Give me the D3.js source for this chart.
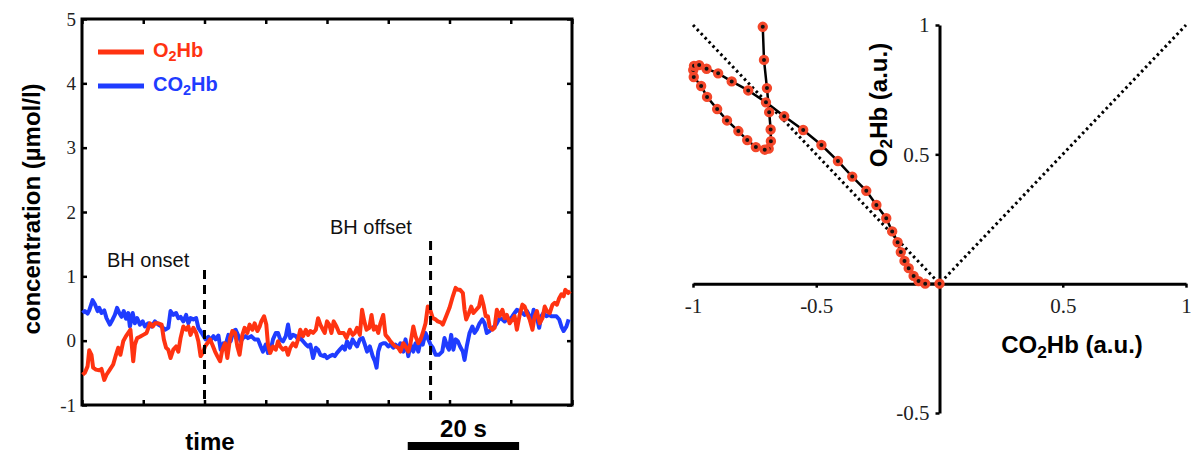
<!doctype html>
<html>
<head>
<meta charset="utf-8">
<title>BH O2Hb / CO2Hb</title>
<style>
  body { margin:0; background:#fff; }
  .lbl { font-family:"Liberation Sans",Arial,sans-serif; }
</style>
</head>
<body>
<div id="chart"></div>
<script src="https://cdn.jsdelivr.net/npm/d3@7"></script>
<script>
// ---- left: time course (s, umol/l) ----
var timeO2 = [0.1,0.5,1.0,1.3,1.7,2.0,2.5,3.1,3.5,4.0,4.4,5.0,5.6,6.1,6.5,6.9,7.4,7.9,8.3,8.7,9.2,9.5,9.9,10.4,11.0,11.6,12.2,12.7,13.1,13.7,14.3,14.7,15.1,15.5,15.9,16.4,16.9,17.3,17.7,18.2,18.7,19.1,19.5,20.0,20.5,20.9,21.3,21.8,22.1,
  22.5,23.0,23.4,23.9,24.3,24.8,25.2,25.7,26.1,26.6,27.0,27.5,27.9,28.3,28.8,29.2,29.7,30.1,30.6,31.0,31.5,31.9,32.2,32.7,33.1,33.4,33.8,34.3,34.8,35.2,35.6,36.1,36.6,37.0,37.4,37.9,38.4,38.8,39.2,39.7,40.2,40.6,41.0,41.5,42.0,42.4,42.8,43.4,
  43.6,44.0,44.4,44.8,45.2,45.7,46.2,46.6,47.0,47.5,48.1,48.6,49.0,49.4,49.9,50.3,50.7,51.1,51.6,52.0,52.4,52.8,53.2,53.6,54.1,54.5,55.0,55.4,55.9,56.3,56.8,57.2,57.7,58.1,58.6,59.0,59.5,59.9,60.4,60.8,61.2,61.7,62.1,62.6,63.0,63.5,63.9,64.5,
  64.8,65.4,66.0,66.6,67.1,67.5,67.9,68.4,68.7,69.0,69.5,69.9,70.3,70.8,71.3,71.7,72.1,72.5,72.9,73.2,73.7,74.1,74.5,75.0,75.5,75.9,76.3,76.8,77.3,77.7,78.1,78.6,79.1,79.5,79.9,80.4,80.9,81.3,81.7,82.2,82.7,83.1,83.5,84.0,84.5,84.9,85.3,85.7,86.1,86.5,86.8,87.3,87.7];
var o2hb = [-0.53,-0.50,-0.40,-0.15,-0.22,-0.42,-0.45,-0.46,-0.44,-0.61,-0.53,-0.45,-0.37,-0.22,-0.11,-0.22,-0.01,0.07,0.12,0.17,-0.32,-0.06,0.04,0.06,0.09,0.12,0.27,0.22,0.27,0.27,0.25,0.02,-0.11,-0.14,-0.27,-0.14,-0.09,-0.17,0.04,0.22,0.17,0.22,0.09,0.20,0.12,-0.01,-0.24,-0.17,-0.09,
  -0.04,0.02,-0.06,-0.17,-0.24,-0.32,-0.14,-0.04,-0.27,0.04,0.15,0.12,-0.09,-0.22,0.09,0.20,0.12,0.25,0.17,0.27,0.15,0.22,0.30,0.38,0.25,-0.06,-0.19,-0.09,-0.14,-0.01,-0.09,-0.14,-0.11,-0.22,-0.11,-0.04,-0.09,0.02,0.17,0.07,0.17,0.09,0.15,0.12,0.17,0.35,0.25,0.15,
  0.12,0.30,0.25,0.12,0.30,0.22,0.12,0.12,0.12,0.04,0.17,0.09,0.12,0.20,0.09,0.48,0.30,0.17,0.20,0.40,0.17,0.22,0.12,0.27,0.40,0.09,0.04,-0.01,-0.06,-0.09,-0.11,-0.17,-0.04,-0.09,-0.17,-0.04,0.22,0.07,-0.04,0.02,0.12,0.27,0.53,0.46,0.35,0.33,0.30,0.28,
  0.25,0.38,0.51,0.69,0.82,0.79,0.79,0.74,0.48,0.33,0.43,0.53,0.43,0.48,0.53,0.69,0.56,0.38,0.38,0.22,0.17,0.20,0.48,0.38,0.48,0.35,0.40,0.27,0.33,0.38,0.17,0.40,0.56,0.53,0.43,0.33,0.17,0.38,0.46,0.27,0.35,0.53,0.46,0.43,0.56,0.59,0.56,0.66,0.72,0.69,0.79,0.74,0.77];

var timeCO2 = [0.1,0.5,1.0,1.3,1.9,2.3,2.8,3.1,3.5,4.0,4.4,5.0,5.5,5.9,6.3,6.7,7.1,7.5,7.9,8.3,8.6,9.1,9.5,9.9,10.4,10.9,11.3,11.9,12.5,13.1,13.7,14.3,14.9,15.5,15.9,16.4,16.9,17.3,17.7,18.2,18.7,19.1,19.5,20.0,20.5,20.9,21.5,
  22.2,22.7,23.1,23.6,24.0,24.5,24.9,25.4,25.8,26.3,26.7,27.2,27.6,28.0,28.5,28.9,29.4,29.8,30.4,31.0,31.6,32.1,32.5,33.0,33.4,33.9,34.3,34.8,35.2,35.6,36.1,36.6,37.0,37.4,37.9,38.4,38.8,39.2,39.7,40.2,40.6,41.0,41.5,42.0,42.4,42.8,43.4,
  43.6,44.0,44.5,45.0,45.4,45.8,46.3,46.8,47.2,47.6,48.1,48.6,49.0,49.4,49.9,50.4,50.8,51.2,51.7,52.2,52.6,52.9,53.2,53.6,54.1,54.5,55.0,55.4,55.9,56.3,56.8,57.2,57.7,58.1,58.6,59.0,59.5,59.9,60.4,60.8,61.2,61.7,62.1,62.6,63.0,63.5,64.1,64.7,
  65.1,65.6,65.9,66.3,66.7,67.1,67.5,67.9,68.4,68.7,69.1,69.6,70.1,70.5,70.9,71.4,71.9,72.3,72.7,73.2,73.7,74.1,74.5,75.0,75.5,75.9,76.3,76.8,77.3,77.7,78.1,78.6,79.1,79.5,79.9,80.4,80.7,81.1,81.6,82.1,82.5,82.9,83.4,83.9,84.3,84.7,85.2,85.7,86.1,86.5,87.0,87.4];
var co2hb = [0.43,0.46,0.42,0.47,0.63,0.57,0.46,0.51,0.43,0.47,0.35,0.25,0.33,0.40,0.51,0.43,0.37,0.46,0.34,0.43,0.22,0.43,0.27,0.35,0.25,0.30,0.22,0.27,0.22,0.30,0.25,0.22,0.17,0.20,0.46,0.40,0.43,0.35,0.37,0.30,0.40,0.27,0.35,0.33,0.35,0.20,0.12,
  0.02,0.06,0.01,0.07,0.02,0.08,-0.14,-0.04,-0.06,0.09,-0.01,0.15,0.17,0.09,-0.01,0.04,0.07,0.04,0.07,0.02,0.02,-0.09,-0.17,-0.06,-0.19,-0.14,0.02,0.12,0.12,0.02,-0.01,0.07,0.25,0.04,0.09,0.07,0.02,0.04,-0.01,-0.06,-0.09,-0.06,-0.27,-0.11,-0.14,-0.22,-0.24,
  -0.22,-0.27,-0.24,-0.22,-0.24,-0.19,-0.14,-0.09,-0.14,-0.01,-0.11,0.02,-0.04,-0.09,0.02,0.04,-0.06,-0.17,-0.09,-0.24,-0.32,-0.42,-0.17,-0.06,-0.04,-0.04,-0.09,-0.06,-0.11,-0.06,-0.11,-0.04,-0.17,0.02,-0.24,-0.06,-0.17,-0.04,-0.17,-0.01,-0.06,0.12,0.04,-0.06,-0.11,-0.22,-0.22,-0.17,
  0.04,-0.09,-0.14,0.09,-0.14,0.02,-0.01,-0.09,-0.17,-0.30,-0.09,0.12,0.22,0.12,0.17,0.27,0.33,0.27,0.12,0.15,0.20,0.22,0.27,0.35,0.33,0.30,0.33,0.33,0.38,0.43,0.48,0.46,0.43,0.40,0.46,0.38,0.27,0.48,0.40,0.20,0.38,0.43,0.38,0.40,0.38,0.38,0.38,0.33,0.22,0.15,0.22,0.33];

var timeTicks = [0,11,22,33,44,55,66,77,88];
var concTicks = [-1,0,1,2,3,4,5];
var bhOnset = 22, bhOffset = 62.6;   // s
var barStart = 58.5, barLength = 20;  // scale bar, s

// ---- right: phase plot (a.u.) ----
var phaseCO2 = [-0.717,-0.712,-0.700,-0.691,-0.685,-0.684,-0.693,-0.709,-0.745,-0.780,-0.816,-0.862,-0.902,-0.943,-0.967,-0.997,-0.999,-0.996,-0.975,-0.945,-0.898,-0.843,-0.776,-0.704,-0.630,-0.553,-0.479,-0.412,-0.354,-0.297,-0.256,-0.216,-0.192,-0.170,-0.157,-0.142,-0.125,-0.105,-0.085,-0.058,0];
var phaseO2  = [0.993,0.865,0.756,0.663,0.596,0.551,0.522,0.518,0.528,0.555,0.590,0.631,0.675,0.722,0.764,0.799,0.826,0.842,0.845,0.831,0.813,0.782,0.747,0.701,0.647,0.594,0.536,0.474,0.414,0.359,0.304,0.253,0.202,0.160,0.122,0.088,0.060,0.030,0.010,0.000,0];
var refX = [-1,0,1], refY = [1,0,1];
var phaseXTicks = [-1,-0.5,0.5,1];
var phaseYTicks = [-0.5,0.5,1];

var RED = "#ff3311", BLUE = "#1f3cff";
var SERIF = "'Liberation Serif','DejaVu Serif',serif";
var plain = function(d) { return String(d); };   // hyphen minus, no padding zeros

var svg = d3.select("#chart").append("svg").attr("width",1200).attr("height",460);

// text with subscripts: parts = [[text, isSub], ...]
function rich(sel, parts) {
  parts.forEach(function(p) {
    var t = sel.append("tspan").text(p[0]);
    if (p[1]) t.attr("font-size","72%").attr("baseline-shift","-28%");
  });
  return sel;
}

function tickStyle(g, size) {
  g.attr("font-family", SERIF);
  g.selectAll(".tick line").attr("stroke","#000").attr("stroke-width",2.5);
  g.selectAll(".tick text").attr("font-size",size).attr("font-family",SERIF).attr("fill","#222");
}

// ================= left plot =================
var x = d3.scaleLinear().domain([0,88]).range([82,572]);
var y = d3.scaleLinear().domain([-1,5]).range([405,19]);
var L = svg.append("g");

L.append("g").attr("transform","translate(82,0)")
  .call(d3.axisLeft(y).tickValues(concTicks).tickSize(-5).tickPadding(6).tickFormat(plain))
  .call(tickStyle, 19).select(".domain").remove();
L.append("g").attr("transform","translate(572,0)")
  .call(d3.axisRight(y).tickValues(concTicks).tickSize(-5).tickFormat(""))
  .call(tickStyle, 19).select(".domain").remove();
L.append("g").attr("transform","translate(0,19)")
  .call(d3.axisTop(x).tickValues(timeTicks).tickSize(-5).tickFormat(""))
  .call(tickStyle, 19).select(".domain").remove();
L.append("g").attr("transform","translate(0,405)")
  .call(d3.axisBottom(x).tickValues(timeTicks).tickSize(-5).tickFormat(""))
  .call(tickStyle, 19).select(".domain").remove();

L.append("rect").attr("x",x(0)).attr("y",y(5)).attr("width",x(88)-x(0)).attr("height",y(-1)-y(5))
  .attr("fill","none").attr("stroke","#000").attr("stroke-width",3);

var line = d3.line().x(function(d){ return x(d[0]); }).y(function(d){ return y(d[1]); });
L.append("path").datum(d3.zip(timeCO2, co2hb)).attr("d", line)
  .attr("fill","none").attr("stroke",BLUE).attr("stroke-width",4).attr("stroke-linejoin","round");
L.append("path").datum(d3.zip(timeO2, o2hb)).attr("d", line)
  .attr("fill","none").attr("stroke",RED).attr("stroke-width",4).attr("stroke-linejoin","round");

// BH markers
[[bhOnset, 1.1, "BH onset", 107, 267], [bhOffset, 1.55, "BH offset", 330, 234]].forEach(function(m) {
  L.append("line").attr("x1",x(m[0])).attr("x2",x(m[0])).attr("y1",y(m[1])).attr("y2",y(-1))
    .attr("stroke","#000").attr("stroke-width",3).attr("stroke-dasharray","9,6");
  L.append("text").attr("class","lbl").attr("x",m[3]).attr("y",m[4])
    .attr("font-size",20).attr("fill","#111").text(m[2]);
});

// legend
[[RED, [["O",0],["2",1],["Hb",0]], 52, 57], [BLUE, [["CO",0],["2",1],["Hb",0]], 86, 91]].forEach(function(l) {
  L.append("line").attr("x1",98).attr("x2",144).attr("y1",l[2]).attr("y2",l[2])
    .attr("stroke",l[0]).attr("stroke-width",5);
  rich(L.append("text").attr("class","lbl").attr("x",153).attr("y",l[3])
    .attr("font-size",20).attr("font-weight","bold").attr("fill",l[0]), l[1]);
});

L.append("text").attr("class","lbl").attr("transform","translate(40,209) rotate(-90)")
  .attr("text-anchor","middle").attr("font-size",24).attr("font-weight","bold").text("concentration (\u00b5mol/l)");
L.append("text").attr("class","lbl").attr("x",210).attr("y",450)
  .attr("text-anchor","middle").attr("font-size",24).attr("font-weight","bold").text("time");

// scale bar
L.append("rect").attr("x",x(barStart)).attr("y",442).attr("width",x(barStart+barLength)-x(barStart)).attr("height",8).attr("fill","#000");
L.append("text").attr("class","lbl").attr("x",(x(barStart)+x(barStart+barLength))/2).attr("y",437)
  .attr("text-anchor","middle").attr("font-size",24).attr("font-weight","bold").text("20 s");

// ================= right plot =================
var px = d3.scaleLinear().domain([-1,1]).range([693,1186]);
var py = d3.scaleLinear().domain([-0.5,1]).range([413,25]);
var R = svg.append("g");

R.append("g").attr("transform","translate(0,"+py(0)+")")
  .call(d3.axisBottom(px).tickValues(phaseXTicks).tickSize(4).tickPadding(10).tickSizeOuter(0).tickFormat(plain))
  .call(tickStyle, 21)
  .select(".domain").attr("stroke","#000").attr("stroke-width",3);
R.append("g").attr("transform","translate("+px(0)+",0)")
  .call(d3.axisLeft(py).tickValues(phaseYTicks).tickSize(4).tickPadding(6).tickSizeOuter(0).tickFormat(plain))
  .call(tickStyle, 21)
  .select(".domain").attr("stroke","#000").attr("stroke-width",3);

var pline = d3.line().x(function(d){ return px(d[0]); }).y(function(d){ return py(d[1]); });
R.append("path").datum(d3.zip(refX, refY)).attr("d", pline)
  .attr("fill","none").attr("stroke","#000").attr("stroke-width",3).attr("stroke-dasharray","2.5,3.2");

var pts = d3.zip(phaseCO2, phaseO2);
R.append("path").datum(pts).attr("d", pline)
  .attr("fill","none").attr("stroke","#000").attr("stroke-width",2.5);
R.selectAll("circle.pt").data(pts).enter().append("circle").attr("class","pt")
  .attr("cx",function(d){ return px(d[0]); }).attr("cy",function(d){ return py(d[1]); })
  .attr("r",3.6).attr("fill","#111").attr("stroke","#f4472a").attr("stroke-width",3.2);

rich(R.append("text").attr("class","lbl").attr("transform","translate(887,105) rotate(-90)")
  .attr("text-anchor","middle").attr("font-size",24).attr("font-weight","bold"),
  [["O",0],["2",1],["Hb (a.u.)",0]]);
rich(R.append("text").attr("class","lbl").attr("x",1072).attr("y",353)
  .attr("text-anchor","middle").attr("font-size",24).attr("font-weight","bold"),
  [["CO",0],["2",1],["Hb (a.u.)",0]]);
</script>
</body>
</html>
